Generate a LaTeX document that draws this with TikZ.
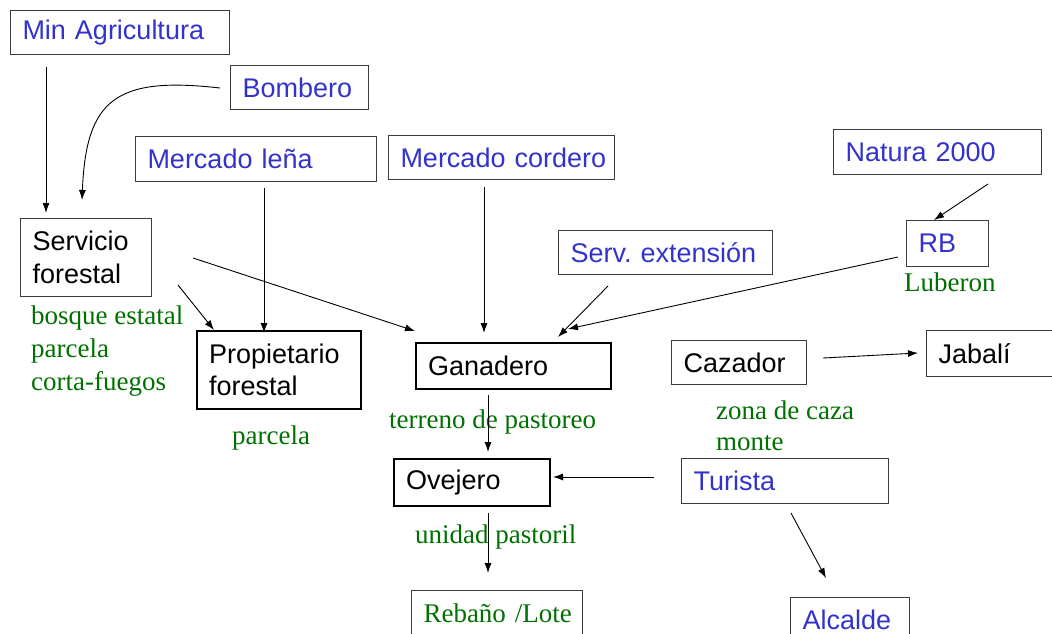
\documentclass[tikz,border=0pt]{standalone}
\usepackage{fontspec}
\setmainfont{Liberation Serif}
\setsansfont{Liberation Sans}
\usetikzlibrary{arrows.meta}
\definecolor{tblue}{RGB}{51,51,204}
\definecolor{tgreen}{RGB}{0,112,0}
\definecolor{bgray}{RGB}{60,60,60}
\begin{document}
\begin{tikzpicture}[x=1pt,y=-1pt,
  box/.style={draw=bgray, line width=1pt, anchor=north west, inner xsep=12pt, inner ysep=0pt,
    align=left, font=\sffamily\fontsize{27}{33}\selectfont\frenchspacing, text=tblue},
  bbox/.style={box, draw=black, line width=2pt, text=black},
  blk/.style={text=black},
  lab/.style={anchor=west, inner sep=0pt, align=left, text=tgreen, font=\rmfamily\fontsize{27}{33}\selectfont},
  arr/.style={draw=black, line width=0.9pt, -{Latex[length=10pt,width=7pt]}}]
\useasboundingbox (0,0) rectangle (1052,634);
\clip (0,0) rectangle (1052,634);
% boxes
\node[box, text width=195pt, minimum height=44pt] (min) at (10,10) {\mbox{Min Agricultura}};
\node[box, text width=114pt, minimum height=44pt] (bom) at (230,65) {\mbox{Bombero}};
\node[box, text width=217pt, minimum height=45pt] (lena) at (135,136) {\mbox{Mercado leña}};
\node[box, text width=202pt, minimum height=44pt] (cord) at (388,135) {\mbox{Mercado cordero}};
\node[box, text width=184pt, minimum height=45pt] (nat) at (833,129) {\mbox{Natura 2000}};
\node[box, blk, text width=107pt, minimum height=78pt] (serv) at (20,218) {Servicio\\forestal};
\node[box, text width=58pt, minimum height=46pt] (rb) at (906,220) {\mbox{RB}};
\node[box, text width=190pt, minimum height=44pt] (ext) at (558,230) {\mbox{Serv. extensión}};
\node[bbox, text width=140pt, minimum height=78pt, font=\sffamily\fontsize{27}{32}\selectfont] (prop) at (196,330) {Propietario\\forestal};
\node[bbox, text width=171pt, minimum height=46pt] (gan) at (415,342) {\mbox{Ganadero}};
\node[box, blk, text width=111pt, minimum height=44pt] (caz) at (671,340) {\mbox{Cazador}};
\node[box, blk, text width=130pt, minimum height=46pt] (jab) at (926,330) {\mbox{Jabalí}};
\node[bbox, text width=132pt, minimum height=47pt] (ove) at (393,458) {\mbox{Ovejero}};
\node[box, text width=183pt, minimum height=45pt] (tur) at (681,458) {\mbox{Turista}};
\node[box, text=tgreen, font=\rmfamily\fontsize{27}{33}\selectfont, text width=147pt, minimum height=46pt] (reb) at (411,590) {\mbox{Rebaño /Lote}};
\node[box, text width=95pt, minimum height=44pt] (alc) at (790,597) {\mbox{Alcalde}};
% green labels
\node[lab] (l1) at (31,351) {bosque estatal\\parcela\\corta-fuegos};
\node[lab] (l2) at (232,438) {parcela};
\node[lab] (l3) at (389,422) {terreno de pastoreo};
\node[lab] (l4) at (904,282) {Luberon};
\node[lab, font=\rmfamily\fontsize{27}{31}\selectfont] (l5) at (716,425.5) {zona de caza\\monte};
\node[lab] (l6) at (415,537) {unidad pastoril};
% connector ends
\coordinate (a1) at (46,67);   \coordinate (b1) at (46,213);
\coordinate (a2) at (220,88);  \coordinate (b2) at (82,200);
\coordinate (a3) at (264,188); \coordinate (b3) at (264,333);
\coordinate (a4) at (178,285); \coordinate (b4) at (214,330);
\coordinate (a5) at (193,258); \coordinate (b5) at (415,331);
\coordinate (a6) at (484,187); \coordinate (b6) at (484,333);
\coordinate (a7) at (608,286); \coordinate (b7) at (558,337);
\coordinate (a8) at (898,257); \coordinate (b8) at (568,329);
\coordinate (a9) at (988,184); \coordinate (b9) at (934,220);
\coordinate (a10) at (823,358); \coordinate (b10) at (918,353);
\coordinate (a11) at (488,395); \coordinate (b11) at (488,452);
\coordinate (a12) at (654,477); \coordinate (b12) at (553,477);
\coordinate (a13) at (488,513); \coordinate (b13) at (488,573);
\coordinate (a14) at (791,513); \coordinate (b14) at (826,578);
% connectors
\draw[arr] (a1) -- (b1);
\draw[arr] (a2) .. controls (115,76) and (86,100) .. (b2);
\draw[arr] (a3) -- (b3);
\draw[arr] (a4) -- (b4);
\draw[arr] (a5) -- (b5);
\draw[arr] (a6) -- (b6);
\draw[arr] (a7) -- (b7);
\draw[arr] (a8) -- (b8);
\draw[arr] (a9) -- (b9);
\draw[arr] (a10) -- (b10);
\draw[arr] (a11) -- (b11);
\draw[arr] (a12) -- (b12);
\draw[arr] (a13) -- (b13);
\draw[arr] (a14) -- (b14);
\end{tikzpicture}
\end{document}
